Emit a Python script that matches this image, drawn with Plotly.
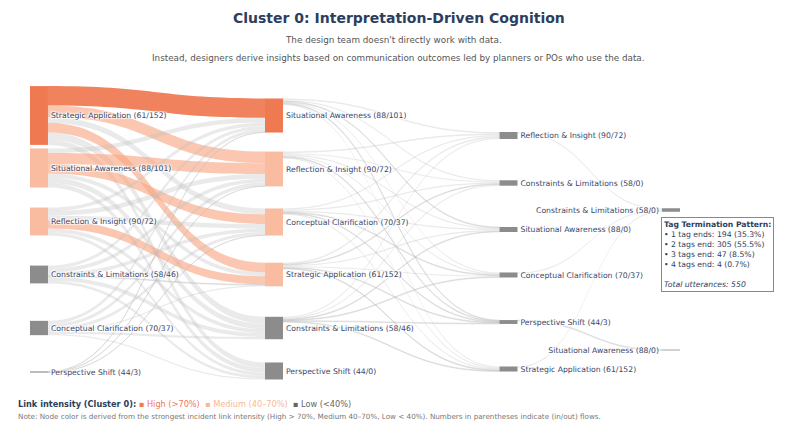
import plotly.graph_objects as go

# --- data -------------------------------------------------------------
col0_labels = ["Strategic Application (61/152)", "Situational Awareness (88/101)",
               "Reflection & Insight (90/72)", "Constraints & Limitations (58/46)",
               "Conceptual Clarification (70/37)", "Perspective Shift (44/3)"]
col1_labels = ["Situational Awareness (88/101)", "Reflection & Insight (90/72)",
               "Conceptual Clarification (70/37)", "Strategic Application (61/152)",
               "Constraints & Limitations (58/46)", "Perspective Shift (44/0)"]
col2_labels = ["Reflection & Insight (90/72)", "Constraints & Limitations (58/0)",
               "Situational Awareness (88/0)", "Conceptual Clarification (70/37)",
               "Perspective Shift (44/3)", "Strategic Application (61/152)"]
col3_labels = ["Constraints & Limitations (58/0)", "Situational Awareness (88/0)"]

# transitions: rows = source column nodes, cols = target column nodes
flows_01 = [[50, 30, 15, 25, 18, 14],
            [12, 28, 25, 10, 14, 12],
            [9, 12, 12, 21, 10, 8],
            [8, 10, 9, 2, 10, 7],
            [8, 9, 8, 3, 6, 3],
            [1, 1, 1, 0, 0, 0]]
flows_12 = [[4, 3, 2, 3, 2, 3],
            [4, 3, 3, 3, 2, 3],
            [3, 3, 3, 2, 2, 3],
            [4, 2, 3, 3, 2, 2],
            [3, 3, 2, 2, 2, 2],
            [0, 0, 0, 0, 0, 0]]
flows_23 = [[3, 0], [0, 0], [0, 0], [3, 0], [0, 2], [3, 0]]

termination = [("1 tag ends", 194, 35.3), ("2 tags end", 305, 55.5),
               ("3 tags end", 47, 8.5), ("4 tags end", 4, 0.7)]
total_utterances = 550

# --- styling ----------------------------------------------------------
FONT = "DejaVu Sans"
NAVY = "#2c3e5c"
HIGH_LINK, MED_LINK, LOW_LINK = "rgba(239,108,66,0.85)", "rgba(248,165,128,0.62)", "rgba(190,190,190,0.32)"
HIGH_NODE, MED_NODE, LOW_NODE = "#ef7a52", "#f9bca0", "#8c8c8c"
OFF = 8  # page body margin in the browser


def px(x):
    return (x - OFF) / 800


def py(y):
    return 1 - (y - OFF) / 444


columns = [col0_labels, col1_labels, col2_labels, col3_labels]
col_x = [0.0136, 0.3697, 0.725, 0.9712]
col_y = [[0.1149, 0.2848, 0.4579, 0.6294, 0.8026, 0.945],
         [0.1149, 0.288, 0.4595, 0.6294, 0.8026, 0.9417],
         [0.1796, 0.3333, 0.4838, 0.631, 0.7832, 0.9353],
         [0.4207, 0.8738]]

labels, node_x, node_y, offsets = [], [], [], []
for c, labs in enumerate(columns):
    offsets.append(len(labels))
    labels += labs
    node_x += [col_x[c]] * len(labs)
    node_y += col_y[c]

src, tgt, val = [], [], []
for c, mat in enumerate([flows_01, flows_12, flows_23]):
    for i, row in enumerate(mat):
        for j, v in enumerate(row):
            if v > 0:
                src.append(offsets[c] + i)
                tgt.append(offsets[c + 1] + j)
                val.append(v)

vmax = max(val)


def level(v):
    r = v / vmax
    return 2 if r > 0.7 else (1 if r >= 0.4 else 0)


link_colors = [[LOW_LINK, MED_LINK, HIGH_LINK][level(v)] for v in val]
node_level = [0] * len(labels)
for s, t, v in zip(src, tgt, val):
    node_level[s] = max(node_level[s], level(v))
    node_level[t] = max(node_level[t], level(v))
node_colors = [[LOW_NODE, MED_NODE, HIGH_NODE][l] for l in node_level]

fig = go.Figure(go.Sankey(
    arrangement="fixed",
    domain=dict(x=[px(30), px(690)], y=[py(389), py(80)]),
    node=dict(label=labels, x=node_x, y=node_y, pad=30, thickness=18,
              color=node_colors, line=dict(width=0)),
    link=dict(source=src, target=tgt, value=val, color=link_colors),
    textfont=dict(family=FONT, size=7.7, color="#3a4668"),
    hoverinfo="none",
))

box_lines = ["<b>Tag Termination Pattern:</b>"]
box_lines += [f"• {name}: {n} ({p}%)" for name, n, p in termination]
box_lines += ["", f"<i>Total utterances: {total_utterances}</i>"]

legend = ("<b>Link intensity (Cluster 0):</b> "
          "<span style='color:#f07a50'>▪ High (&gt;70%)</span>  "
          "<span style='color:#f9b898'>▪ Medium (40–70%)</span>  "
          "<span style='color:#666'>▪ Low (&lt;40%)</span>")
note = ("Note: Node color is derived from the strongest incident link intensity "
        "(High &gt; 70%, Medium 40–70%, Low &lt; 40%). Numbers in parentheses indicate (in/out) flows.")


def text_at(text, x, y, size, color, **kw):
    return dict(text=text, x=x, y=y, xref="paper", yref="paper", showarrow=False,
                yanchor=kw.pop("yanchor", "middle"), font=dict(size=size, color=color), **kw)


fig.update_layout(
    width=800, height=444,
    margin=dict(l=0, r=0, t=0, b=0),
    paper_bgcolor="white",
    font=dict(family=FONT),
    annotations=[
        text_at("<b>Cluster 0: Interpretation-Driven Cognition</b>", px(399), py(18), 14, NAVY),
        text_at("The design team doesn't directly work with data.", px(393), py(40), 8.8, "#555"),
        text_at("Instead, designers derive insights based on communication outcomes led by "
                "planners or POs who use the data.", px(398), py(58), 8.8, "#555"),
        text_at("<br>".join(box_lines), px(661), py(217), 7.7, NAVY, yanchor="top",
                xanchor="left", align="left", bordercolor="#888", borderwidth=1,
                borderpad=2, bgcolor="white"),
        text_at(legend, px(16), py(404), 8.2, NAVY, xanchor="left"),
        text_at(note, px(16), py(416), 7.2, "#777", xanchor="left"),
    ],
)

fig.write_html("out.html")
